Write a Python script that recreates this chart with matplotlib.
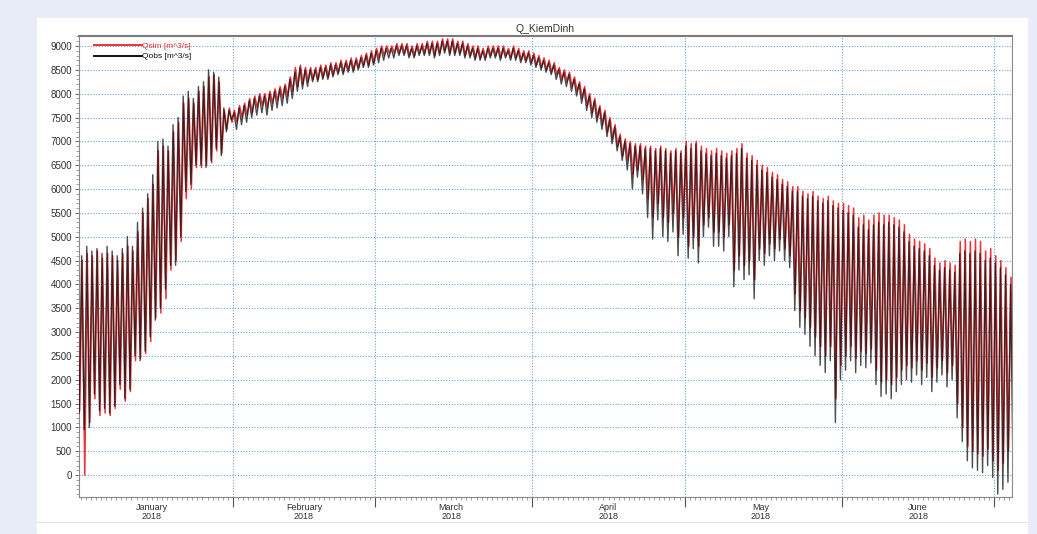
import numpy as np
import matplotlib
matplotlib.use('Agg')
import matplotlib.pyplot as plt
import matplotlib.dates as mdates
from matplotlib.patches import Rectangle

plt.rcParams['font.family'] = ['Liberation Sans', 'DejaVu Sans']

# Daily high / low discharge (m^3/s), 1 Jan 2018 .. 4 Jul 2018
obs_high = [
    # January
    4750, 4600, 4800, 4700, 4750, 4650, 4800, 4700, 4600, 4750, 5000, 4800, 5300, 5600, 5900, 6300,
    7000, 7050, 6900, 7350, 7500, 7950, 8050, 7900, 8150, 8250, 8500, 8450, 8350, 7700, 7650,
    # February
    7600, 7700, 7750, 7850, 7900, 7950, 7950, 8000, 8050, 8100, 8150, 8300, 8450, 8550, 8500, 8500,
    8500, 8550, 8550, 8600, 8600, 8650, 8650, 8700, 8700, 8750, 8800, 8850,
    # March
    8900, 8950, 8950, 8950, 9000, 9000, 9000, 8950, 9000, 9000, 9050, 9050, 9050, 9100, 9100, 9100,
    9050, 9050, 9000, 8950, 8950, 8900, 8950, 8950, 8950, 8950, 8900, 8950, 8900, 8850, 8850,
    # April
    8800, 8750, 8700, 8650, 8600, 8500, 8450, 8400, 8300, 8200, 8100, 7950, 7850, 7700, 7600, 7450,
    7300, 7100, 7000, 6950, 6900, 6900, 6850, 6850, 6800, 6850, 6800, 6750, 6800, 6750,
    # May
    6900, 6850, 6950, 6800, 6750, 6700, 6750, 6700, 6650, 6700, 6750, 6850, 6650, 6600, 6500, 6400,
    6350, 6250, 6200, 6100, 6050, 5950, 5950, 5850, 5800, 5850, 5750, 5700, 5750, 5650, 5600,
    # June
    5550, 5500, 5450, 5200, 5250, 5150, 5250, 5300, 5250, 5300, 5250, 5200, 5100, 4900, 4800, 4750,
    4700, 4600, 4400, 4300, 4350, 4300, 4250, 4650, 4700, 4650, 4700, 4650, 4500, 4550,
    # July
    4450, 4350, 4200, 4000,
]
obs_low = [
    1300, 950, 1000, 1700, 1350, 1400, 1300, 1450, 1900, 1600, 1800, 2500, 2400, 2600, 2900, 3250,
    3500, 3900, 4400, 4400, 5000, 5950, 6100, 6500, 6500, 6450, 6600, 6850, 6700, 7200, 7450,
    7250, 7350, 7400, 7500, 7550, 7600, 7550, 7650, 7700, 7750, 7800, 7900, 8050, 8100, 8150, 8250,
    8250, 8300, 8300, 8350, 8400, 8400, 8450, 8450, 8500, 8550, 8550, 8600,
    8650, 8700, 8750, 8750, 8800, 8800, 8750, 8750, 8800, 8800, 8800, 8750, 8800, 8850, 8800, 8800,
    8800, 8750, 8750, 8700, 8700, 8700, 8750, 8750, 8700, 8750, 8700, 8700, 8650, 8650, 8600,
    8550, 8500, 8450, 8400, 8300, 8200, 8150, 8050, 7950, 7800, 7650, 7500, 7400, 7250, 7100, 6950,
    6800, 6600, 6400, 6000, 6250, 5900, 5400, 4950, 5350, 5000, 4900, 5100, 4600, 5050,
    4550, 4750, 4450, 5000, 5200, 4800, 4800, 4700, 5000, 3950, 4300, 4100, 4200, 3700, 4500, 4400,
    4600, 4500, 4700, 4500, 4350, 3450, 3100, 2950, 2700, 2500, 2300, 2150, 2400, 1100, 2000,
    2200, 2400, 2150, 2300, 2250, 2350, 1900, 1650, 1700, 1600, 1750, 1900, 2000, 1950, 2100, 1900,
    2050, 1750, 1950, 2100, 1850, 2000, 1200, 700, 300, 150, 100, 50, 200, -50,
    -400, -300, -150, 200,
]
sim_high = [
    4600, 4500, 4650, 4600, 4700, 4550, 4650, 4600, 4500, 4650, 4800, 4700, 5100, 5500, 5800, 6100,
    6800, 6900, 6800, 7200, 7400, 7800, 7900, 7800, 8050, 8150, 8350, 8400, 8250, 7650, 7700,
    7650, 7750, 7800, 7900, 7950, 8000, 8000, 8050, 8100, 8150, 8200, 8350, 8550, 8600, 8550, 8550,
    8550, 8600, 8600, 8650, 8650, 8700, 8700, 8750, 8750, 8800, 8850, 8900,
    8950, 9000, 9000, 9000, 9050, 9050, 9050, 9000, 9050, 9050, 9100, 9100, 9100, 9150, 9150, 9150,
    9100, 9100, 9050, 9000, 9000, 8950, 9000, 9000, 9000, 9000, 8950, 9000, 8950, 8900, 8900,
    8850, 8800, 8750, 8700, 8650, 8550, 8500, 8450, 8350, 8250, 8150, 8000, 7900, 7750, 7650, 7500,
    7350, 7150, 7050, 7000, 6950, 6950, 6900, 6900, 6850, 6900, 6850, 6800, 6850, 6800,
    7000, 6950, 7000, 6900, 6850, 6800, 6850, 6800, 6750, 6800, 6850, 6950, 6750, 6700, 6600, 6500,
    6450, 6350, 6300, 6200, 6150, 6050, 6050, 5950, 5900, 5950, 5850, 5800, 5850, 5750, 5700,
    5700, 5650, 5600, 5400, 5450, 5350, 5450, 5500, 5450, 5450, 5400, 5350, 5250, 5050, 4950, 4900,
    4850, 4750, 4550, 4450, 4500, 4450, 4400, 4900, 4950, 4900, 4950, 4900, 4700, 4750,
    4600, 4500, 4350, 4150,
]
sim_low = [
    1350, 0, 1100, 1600, 1250, 1300, 1250, 1400, 1800, 1550, 1750, 2400, 2450, 2550, 2800, 3300,
    3400, 3700, 4300, 4500, 4900, 5800, 6000, 6450, 6450, 6500, 6550, 6800, 6750, 7250, 7400,
    7400, 7500, 7550, 7600, 7700, 7750, 7700, 7800, 7850, 7900, 7950, 8050, 8150, 8200, 8250, 8300,
    8300, 8350, 8350, 8400, 8450, 8450, 8500, 8500, 8550, 8600, 8600, 8650,
    8750, 8800, 8850, 8850, 8850, 8850, 8800, 8800, 8850, 8850, 8850, 8800, 8850, 8900, 8850, 8850,
    8850, 8800, 8800, 8750, 8750, 8750, 8800, 8800, 8750, 8800, 8750, 8750, 8700, 8700, 8650,
    8600, 8550, 8500, 8450, 8400, 8300, 8250, 8150, 8050, 7900, 7750, 7600, 7500, 7350, 7200, 7050,
    6900, 6700, 6600, 6300, 6400, 6200, 5800, 5400, 5700, 5400, 5300, 5500, 5000, 5400,
    4800, 5000, 4800, 5250, 5400, 5100, 5100, 5000, 5250, 4300, 4600, 4400, 4500, 4100, 4750, 4650,
    4850, 4750, 4950, 4750, 4600, 3800, 3450, 3300, 3100, 2900, 2700, 2500, 2700, 1600, 2300,
    2500, 2700, 2450, 2600, 2550, 2650, 2200, 1950, 2000, 1900, 2050, 2200, 2300, 2250, 2400, 2200,
    2350, 2050, 2250, 2400, 2150, 2300, 1500, 1000, 600, 500, 450, 400, 550, 300,
    100, 250, 500, 800,
]

month_names = ['January', 'February', 'March', 'April', 'May', 'June']
y_ticks = list(range(0, 9001, 500))

start = np.datetime64('2018-01-01T00:00')
n_days = len(obs_high)
days = np.arange(n_days)


def build_series(highs, lows, t_high, t_low):
    t = np.empty(2 * n_days)
    v = np.empty(2 * n_days)
    t[0::2] = days + t_high
    t[1::2] = days + t_low
    v[0::2] = highs
    v[1::2] = lows
    times = start + (t * 24 * 60).astype('timedelta64[m]')
    return times, v


t_obs, q_obs = build_series(obs_high, obs_low, 0.2, 0.7)
t_sim, q_sim = build_series(sim_high, sim_low, 0.3, 0.8)

fig = plt.figure(figsize=(10.37, 5.34), dpi=100, facecolor='#e8ecf6')
fig.patches.append(Rectangle((37 / 1037, 0), (1028 - 37) / 1037, 1 - 18 / 534,
                             transform=fig.transFigure, facecolor='white',
                             edgecolor='none', zorder=-10))
fig.lines.append(plt.Line2D([37 / 1037, 1028 / 1037], [1 - 522 / 534] * 2,
                            transform=fig.transFigure, color='#e4e4e4', lw=0.8, zorder=-5))

ax = fig.add_axes([79 / 1037, 1 - 497 / 534, (1012 - 79) / 1037, (497 - 36) / 534])
ax.set_zorder(1)
ax.patch.set_alpha(0)

ax.plot(t_sim, q_sim, color='#ec3236', lw=1.1, label='Qsim [m^3/s]', zorder=3)
ax.plot(t_obs, q_obs, color='#111111', lw=1.0, alpha=0.75, label='Qobs [m^3/s]', zorder=3)

ax.set_xlim(np.datetime64('2018-01-01T16:00'), np.datetime64('2018-07-04T12:00'))
ax.set_ylim(-460, 9210)

ax.set_yticks(y_ticks)
ax.yaxis.set_minor_locator(plt.MultipleLocator(100))
ax.tick_params(axis='y', which='major', labelsize=7, length=3, width=0.6,
               colors='#555555', labelcolor='#333333', pad=2)
ax.tick_params(axis='y', which='minor', length=2, width=0.5, colors='#777777')

ax.xaxis.set_major_locator(mdates.MonthLocator())
ax.xaxis.set_minor_locator(mdates.DayLocator())
ax.xaxis.set_major_formatter(plt.NullFormatter())
ax.tick_params(axis='x', which='major', length=7, width=0.8, colors='#555555')
ax.tick_params(axis='x', which='minor', length=2.5, width=0.5, colors='#777777')

for i, name in enumerate(month_names):
    m0 = np.datetime64('2018-%02d-01' % (i + 1))
    m1 = np.datetime64('2018-%02d-01' % (i + 2))
    mid = m0 + (m1 - m0) / 2
    ax.text(mdates.date2num(mid), -0.012, name + '\n2018', transform=ax.get_xaxis_transform(),
            ha='center', va='top', fontsize=6.5, color='#333333', linespacing=1.1)

ax.grid(True, which='major', color='#6aa2dc', lw=0.8, linestyle=(0, (1, 1.5)))
ax.set_axisbelow(True)

for side in ['left', 'right', 'bottom']:
    ax.spines[side].set_color('#8a8a8a')
    ax.spines[side].set_linewidth(0.8)
ax.spines['top'].set_color('#7a7a7a')
ax.spines['top'].set_linewidth(1.5)

ax.set_title('Q_KiemDinh', fontsize=7.5, color='#333333', pad=3)

leg = ax.legend(loc='upper left', bbox_to_anchor=(0.01, 1.0), frameon=False, fontsize=6,
                handlelength=5.8, handletextpad=0, labelspacing=0.35, labelcolor='linecolor',
                borderaxespad=0.3)
for h in leg.get_lines():
    h.set_linewidth(1.4)
    h.set_alpha(1)

fig.savefig('out.png', dpi=100, facecolor=fig.get_facecolor())
